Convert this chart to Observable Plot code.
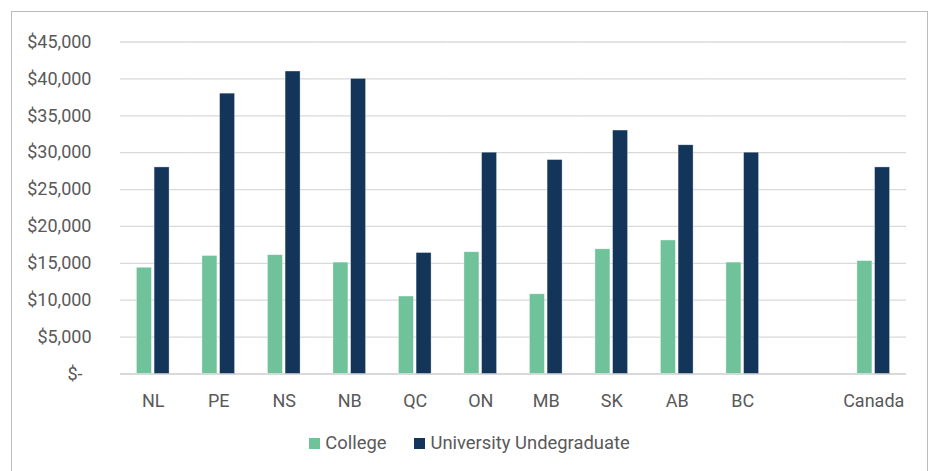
<!DOCTYPE html>
<html>
<head>
<meta charset="utf-8">
<script src="https://cdn.jsdelivr.net/npm/d3@7"></script>
<script src="https://cdn.jsdelivr.net/npm/@observablehq/plot@0.6"></script>
<style>
  html, body { margin: 0; padding: 0; background: #fff; }
  #wrap { position: relative; width: 933px; height: 471px; overflow: hidden; font-family: Roboto, sans-serif; }
  #frame { position: absolute; left: 11px; top: 11px; width: 917px; height: 490px; border: 1px solid #bcbcbc; box-sizing: border-box; }
  #chart { position: absolute; left: 0; top: 0; }
  #legend { position: absolute; left: 11px; width: 917px; top: 433px; display: flex; justify-content: center; gap: 28px; color: #595959; font-size: 18.4px; line-height: 20px; }
  .item { display: flex; align-items: center; gap: 5px; height: 20px; }
  .sw { width: 11px; height: 11px; display: inline-block; }
</style>
</head>
<body>
<div id="wrap">
  <div id="frame"></div>
  <div id="chart"></div>
  <div id="legend"></div>
</div>
<script>
const categories = ["NL", "PE", "NS", "NB", "QC", "ON", "MB", "SK", "AB", "BC", " ", "Canada"];
const college    = [14400, 16000, 16100, 15100, 10500, 16500, 10800, 16900, 18100, 15100, null, 15300];
const university = [28000, 38000, 41000, 40000, 16400, 30000, 29000, 33000, 31000, 30000, null, 28000];
const series = ["College", "University Undegraduate"];
const colors = ["#70c29b", "#13355a"];
const yTicks = [0, 5000, 10000, 15000, 20000, 25000, 30000, 35000, 40000, 45000];

const rows = [];
categories.forEach((c, i) => {
  rows.push({cat: c, series: series[0], value: college[i]});
  rows.push({cat: c, series: series[1], value: university[i]});
});

const fmt = v => v === 0 ? "$-\u00a0\u00a0" : "$" + d3.format(",")(v);

const chart = Plot.plot({
  width: 933,
  height: 410,
  marginLeft: 120,
  marginRight: 27,
  marginTop: 41.5,
  marginBottom: 36.5,
  style: {fontFamily: "Roboto, sans-serif", fontSize: "18px", color: "#595959", background: "transparent", overflow: "visible"},
  fx: {domain: categories, padding: 0, round: false, label: null, axis: null},
  x: {domain: series, paddingInner: 0.15, paddingOuter: 0.93, round: false, axis: null},
  y: {domain: [0, 45000], axis: null},
  color: {domain: series, range: colors},
  marks: [
    Plot.gridY(yTicks, {stroke: "#d9d9d9", strokeOpacity: 1, strokeWidth: 1.3}),
    Plot.ruleY([0], {stroke: "#d9d9d9", strokeWidth: 2}),
    Plot.barY(rows, {fx: "cat", x: "series", y: "value", fill: "series", stroke: "#ffffff", strokeOpacity: 0.6, strokeWidth: 0.6}),
    Plot.axisY(yTicks, {anchor: "left", tickSize: 0, tickPadding: 29, tickFormat: fmt, label: null, fill: "#595959"}),
    Plot.axisFx({anchor: "bottom", tickSize: 0, tickPadding: 20, label: null, fill: "#595959"})
  ]
});
document.getElementById("chart").appendChild(chart);

const legend = document.getElementById("legend");
series.forEach((s, i) => {
  const item = document.createElement("div");
  item.className = "item";
  const sw = document.createElement("span");
  sw.className = "sw";
  sw.style.background = colors[i];
  const t = document.createElement("span");
  t.textContent = s;
  item.appendChild(sw);
  item.appendChild(t);
  legend.appendChild(item);
});
</script>
</body>
</html>
